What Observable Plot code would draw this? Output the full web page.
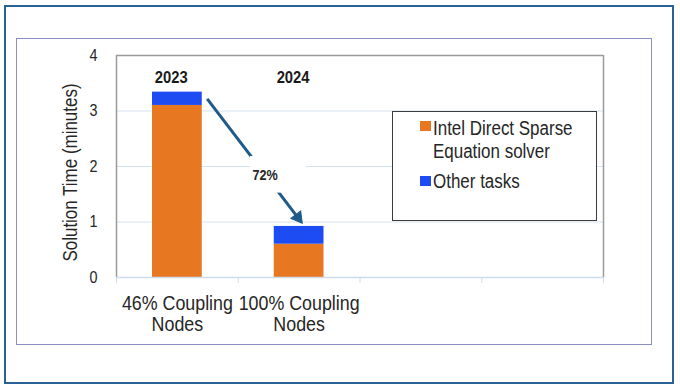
<!DOCTYPE html>
<html>
<head>
<meta charset="utf-8">
<script src="https://cdn.jsdelivr.net/npm/d3@7"></script>
<script src="https://cdn.jsdelivr.net/npm/@observablehq/plot@0.6"></script>
<style>
  html, body { margin: 0; padding: 0; background: #fff; }
  #wrap { position: relative; width: 680px; height: 389px; overflow: hidden;
    font-family: "Liberation Sans", Arial, sans-serif; }
  #chart { position: absolute; left: 0; top: 0; }
  .outer { position: absolute; left: 4px; top: 5px; width: 670px; height: 379px;
    box-sizing: border-box; border: 2px solid #2b6296; }
  .inner { position: absolute; left: 15.5px; top: 38px; width: 636px; height: 307px;
    box-sizing: border-box; border: 1.6px solid #8a8ec0; }
  .legend { position: absolute; left: 392px; top: 111px; width: 205px; height: 110px;
    box-sizing: border-box; border: 1.5px solid #3a3a3a; background: #fff; color: #262626; font-size: 19.5px; }
  .sw { position: absolute; width: 11px; height: 10.5px; }
  .lt { position: absolute; white-space: nowrap; line-height: 23px;
    transform: scaleX(0.87); transform-origin: 0 0; }
</style>
</head>
<body>
<div id="wrap">
  <div class="outer"></div>
  <div class="inner"></div>
  <div id="chart"></div>
  <div class="legend" id="legend"></div>
</div>
<script>
// ---- data ----
const categories = ["46% Coupling\nNodes", "100% Coupling\nNodes", "", ""];
const seriesNames = ["Intel Direct Sparse\nEquation solver", "Other tasks"];
const solverMinutes = [3.10, 0.60];
const otherMinutes = [0.24, 0.32];
const yearLabels = ["2023", "2024"];
const reductionLabel = ["72%"];
const yTicks = [0, 1, 2, 3, 4];
const seriesColors = ["#e87722", "#1c4cf2"];

// table built from the arrays (solver first so it stacks at the bottom)
const rows = [];
solverMinutes.forEach((v, i) => rows.push({idx: i, series: seriesNames[0], value: v}));
otherMinutes.forEach((v, i) => rows.push({idx: i, series: seriesNames[1], value: v}));
const totals = solverMinutes.map((v, i) => v + otherMinutes[i]);

const font = '"Liberation Sans", Arial, sans-serif';
const W = 680, H = 389, ML = 116, MR = 77, MT = 55, MB = 112;
const pxX = (W - ML - MR) / categories.length, pxY = (H - MT - MB) / 4;

// arrow geometry (from the top of the 2023 bar to the top of the 2024 bar)
const arrow = {x1: 0.745, y1: totals[0] - 0.12, x2: 1.525, y2: totals[1] + 0.06};
const adx = (arrow.x2 - arrow.x1) * pxX, ady = -(arrow.y2 - arrow.y1) * pxY;
const alen = Math.hypot(adx, ady);
const headBack = 7; // px from tip to triangle centroid
const head = {x: arrow.x2 - (adx / alen) * headBack / pxX, y: arrow.y2 + (ady / alen) * headBack / pxY,
  angle: Math.atan2(adx, -ady) * 180 / Math.PI};

const chart = Plot.plot({
  width: W,
  height: H,
  marginLeft: ML,
  marginRight: MR,
  marginTop: MT,
  marginBottom: MB,
  x: {type: "linear", domain: [0, categories.length]},
  y: {domain: [0, 4]},
  color: {domain: seriesNames, range: seriesColors},
  style: {fontFamily: font, background: "transparent", color: "#262626"},
  marks: [
    Plot.gridY([1, 2, 3], {stroke: "#d3e2f0", strokeOpacity: 1, strokeWidth: 1.2}),
    Plot.rectY(rows, {
      x1: d => d.idx, x2: d => d.idx + 1, y: "value", fill: "series",
      insetLeft: 36, insetRight: 36
    }),
    // frame: left, right, top
    Plot.ruleX([0, categories.length], {stroke: "#9a9a9a", strokeWidth: 1.5}),
    Plot.ruleY([4], {stroke: "#9a9a9a", strokeWidth: 1.5}),
    Plot.ruleY([0], {stroke: "#cddcec", strokeWidth: 1.5}),
    // arrow
    Plot.link([arrow], {x1: "x1", y1: "y1", x2: () => head.x, y2: () => head.y,
      stroke: "#1f5b8a", strokeWidth: 3}),
    Plot.dot([head], {x: "x", y: "y", symbol: "triangle", r: 4.6, rotate: "angle",
      fill: "#1f5b8a", stroke: "#1f5b8a", strokeWidth: 1}),
    Plot.rect(reductionLabel, {x1: () => 1.10, x2: () => 1.56, y1: () => 1.52, y2: () => 2.18, fill: "#fff"}),
    Plot.text(reductionLabel, {x: () => 1.22, y: () => 1.84, text: d => d,
      fontSize: 14.5, fontWeight: "bold", fill: "#262626"}),
    Plot.text(yearLabels, {x: (d, i) => i + 0.45, y: () => 3.5, text: d => d,
      fontSize: 17, fontWeight: "bold", lineAnchor: "bottom", fill: "#1a1a1a"}),
    // axes
    Plot.axisY(yTicks, {tickSize: 0, tickPadding: 19, fontSize: 16.5, label: null, fill: "#262626",
      tickFormat: d3.format("d")}),
    Plot.axisX(d3.range(categories.length + 1), {tickSize: 6, stroke: "#cddcec", tickFormat: () => "", label: null}),
    Plot.axisX(categories.map((c, i) => i + 0.5).filter((v, i) => categories[i] !== ""), {
      tickSize: 0, tickPadding: 18, fontSize: 20.5, label: null, fill: "#262626",
      tickFormat: v => categories[Math.floor(v)]
    }),
    Plot.text(["Solution Time (minutes)"], {frameAnchor: "left", rotate: -90, dx: -46, dy: 6,
      textAnchor: "middle", text: d => d, fontSize: 19.5, fill: "#262626"})
  ]
});
document.getElementById("chart").appendChild(chart);

// condense the text horizontally (along its own baseline), keeping its anchor point
const SX = 0.87;
chart.querySelectorAll("text").forEach(t => {
  const b = t.getBBox();
  if (!b.width) return;
  const anchor = getComputedStyle(t).textAnchor;
  const ax = anchor === "end" ? b.x + b.width : anchor === "start" ? b.x : b.x + b.width / 2;
  const prev = t.getAttribute("transform") || "";
  t.setAttribute("transform", `${prev} translate(${ax},0) scale(${SX},1) translate(${-ax},0)`);
});

// legend (HTML, inside the boxed area)
const legend = document.getElementById("legend");
const legendLayout = [{sw: 8.5, txt: 4.6}, {sw: 63.5, txt: 57.6}];
seriesNames.forEach((name, i) => {
  const sw = document.createElement("div");
  sw.className = "sw";
  sw.style.left = "26.5px";
  sw.style.top = legendLayout[i].sw + "px";
  sw.style.background = seriesColors[i];
  legend.appendChild(sw);
  const t = document.createElement("div");
  t.className = "lt";
  t.style.left = "40px";
  t.style.top = legendLayout[i].txt + "px";
  t.innerHTML = name.split("\n").join("<br>");
  legend.appendChild(t);
});
</script>
</body>
</html>
